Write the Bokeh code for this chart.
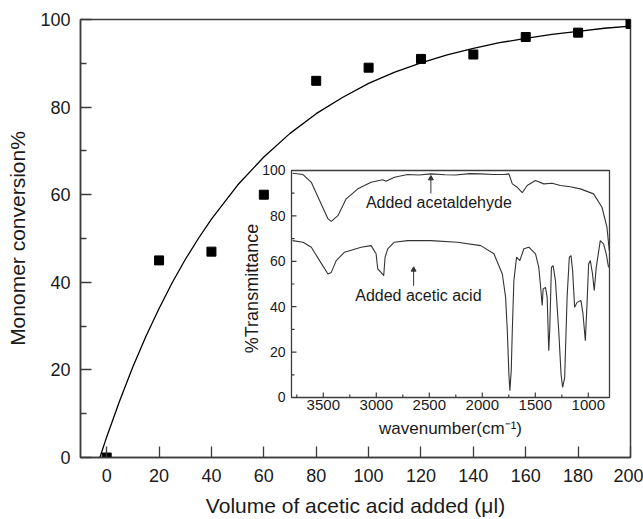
import math
from bokeh.plotting import figure
from bokeh.models import Range1d, FixedTicker
from bokeh.core.properties import value
from bokeh.embed import file_html
from bokeh.resources import INLINE

FONT = "Liberation Sans"

# ---- main chart data ----
volume = [0, 20, 40, 60, 80, 100, 120, 140, 160, 180, 200]
conversion = [0, 45, 47, 60, 86, 89, 91, 92, 96, 97, 99]

fit_volume = [-2.6, 0, 5, 10, 15, 20, 25, 30, 35, 40, 50, 60, 70, 80, 90, 100,
              110, 120, 130, 140, 150, 160, 170, 180, 190, 200]
fit_conversion = [0, 4.7, 13.0, 20.7, 27.7, 34.0, 39.9, 45.2, 50.0, 54.4, 62.2,
                  68.6, 74.0, 78.5, 82.2, 85.4, 88.0, 90.1, 91.9, 93.4, 94.7,
                  95.7, 96.6, 97.3, 98.0, 98.5]

x_ticks = [0, 20, 40, 60, 80, 100, 120, 140, 160, 180, 200]
y_ticks = [0, 20, 40, 60, 80, 100]
y_minor = [10, 30, 50, 70, 90]

# ---- inset IR spectra ----
wn_aldehyde = [3790, 3691, 3613, 3535, 3456, 3425, 3362, 3284, 3174, 3049, 2939,
               2908, 2829, 2704, 2600, 2485, 2350, 2250, 2120, 2015, 1900, 1780,
               1749, 1717, 1670, 1623, 1576, 1498, 1420, 1341, 1263, 1170, 1075,
               950, 871, 824, 802]
t_aldehyde = [98.8, 98.2, 94.8, 86.8, 78.7, 77.6, 80.1, 87.5, 91.9, 94.8, 95.9,
              95.3, 97.0, 98.2, 98.0, 98.5, 98.1, 98.0, 98.6, 98.5, 98.2, 98.3,
              98.5, 94.1, 92.6, 90.2, 93.4, 95.6, 94.1, 94.4, 93.4, 92.8, 91.9,
              89.7, 83.8, 75.0, 64.7]

wn_acid = [3790, 3691, 3613, 3535, 3456, 3425, 3378, 3300, 3143, 3049, 3002,
           2986, 2955, 2930, 2917, 2892, 2830, 2704, 2485, 2234, 2015, 1890,
           1811, 1780, 1764, 1749, 1740, 1727, 1717, 1702, 1677, 1646, 1608,
           1561, 1498, 1467, 1451, 1435, 1426, 1404, 1388, 1373, 1364, 1348,
           1332, 1310, 1279, 1257, 1242, 1223, 1200, 1179, 1163, 1148, 1129,
           1106, 1069, 1050, 1028, 1012, 997, 981, 960, 944, 925, 887, 856,
           831, 809]
t_acid = [69.1, 68.4, 66.2, 60.3, 54.4, 55.1, 60.3, 64.0, 66.2, 66.9, 63.3,
          56.6, 55.1, 53.7, 61.8, 65.5, 68.4, 69.1, 69.1, 68.4, 66.9, 63.3,
          54.4, 44.1, 29.4, 10.3, 3.0, 11.8, 29.4, 51.5, 61.8, 60.3, 65.5,
          66.2, 63.3, 57.3, 49.3, 40.5, 47.8, 48.5, 44.1, 20.6, 29.4, 57.3,
          58.1, 51.5, 29.4, 10.3, 4.4, 8.8, 44.1, 61.8, 62.5, 55.9, 39.7,
          41.9, 42.7, 36.8, 25.0, 41.2, 58.8, 60.3, 54.4, 47.1, 57.3, 69.1,
          67.7, 63.3, 57.3]

inset_x_ticks = [3500, 3000, 2500, 2000, 1500, 1000]
inset_x_labels = ["3500", "3000", "2500", "2000", "1500", "1000"]
inset_x_minor = [3750, 3250, 2750, 2250, 1750, 1250]
inset_y_ticks = [0, 20, 40, 60, 80, 100]
inset_y_labels = ["0", "20", "40", "60", "80", "100"]
inset_y_minor = [10, 30, 50, 70, 90]

notes = ["Added acetaldehyde", "Added acetic acid"]
note_x = [2410, 2603]
note_y = [86.0, 44.9]
arrow_x = [2485, 2648]
arrow_y0 = [89.9, 49.2]
arrow_y1 = [96.5, 56.3]

AX = "#3c3c3c"
TXT = "#1a1a1a"
SPEC = "#333333"

# ---------------- main figure ----------------
p = figure(width=643, height=519, x_range=Range1d(-10, 200), y_range=Range1d(0, 100),
           output_backend="svg", toolbar_location=None,
           min_border_left=80, min_border_right=13, min_border_top=19, min_border_bottom=62)
p.background_fill_color = "white"
p.border_fill_color = "white"
p.outline_line_color = AX
p.outline_line_width = 1.5
p.grid.visible = False

p.line(fit_volume, fit_conversion, line_color="black", line_width=1.3)
p.scatter(volume, conversion, marker="square", size=9, fill_color="black", line_color="black")

p.xaxis.ticker = FixedTicker(ticks=x_ticks)
p.yaxis.ticker = FixedTicker(ticks=y_ticks, minor_ticks=y_minor)
for ax in (p.xaxis[0], p.yaxis[0]):
    ax.axis_line_color = AX
    ax.axis_line_width = 1.5
    ax.major_tick_line_color = AX
    ax.major_tick_line_width = 1.3
    ax.minor_tick_line_color = AX
    ax.minor_tick_line_width = 1.3
    ax.major_tick_in = 11
    ax.major_tick_out = 0
    ax.minor_tick_in = 6
    ax.minor_tick_out = 0
    ax.major_label_text_font = FONT
    ax.major_label_text_font_size = "18px"
    ax.major_label_text_color = TXT
    ax.axis_label_text_font = FONT
    ax.axis_label_text_font_size = "21px"
    ax.axis_label_text_font_style = "normal"
    ax.axis_label_text_color = TXT
p.xaxis.minor_tick_line_color = None
p.xaxis.axis_label = "Volume of acetic acid added (\u03bcl)"
p.yaxis.axis_label = "Monomer conversion%"
p.xaxis.major_label_standoff = 11
p.xaxis.axis_label_standoff = 9
p.yaxis.major_label_standoff = 10
p.yaxis.axis_label_standoff = 8

# ---------------- inset (sub-coordinates inside the main frame) ----------------
inset_x = Range1d(3800, 800)
inset_y = Range1d(0, 100)
sub = p.subplot(x_source=inset_x, y_source=inset_y,
                x_target=Range1d(70.56, 191.98), y_target=Range1d(13.70, 65.53))

sub.quad(left=[inset_x.start], right=[inset_x.end], bottom=[inset_y.start], top=[inset_y.end],
         fill_color="white", line_color=AX, line_width=1.3)

sub.line(wn_aldehyde, t_aldehyde, line_color=SPEC, line_width=1.1)
sub.line(wn_acid, t_acid, line_color=SPEC, line_width=1.1)

# ticks (inside)
sub.ray(x=inset_x_ticks, y=[inset_y.start] * len(inset_x_ticks), length=5, length_units="screen",
        angle=math.pi / 2, line_color=AX, line_width=1.2)
sub.ray(x=inset_x_minor, y=[inset_y.start] * len(inset_x_minor), length=3, length_units="screen",
        angle=math.pi / 2, line_color=AX, line_width=1.2)
sub.ray(x=[inset_x.start] * len(inset_y_ticks), y=inset_y_ticks, length=5, length_units="screen",
        angle=0, line_color=AX, line_width=1.2)
sub.ray(x=[inset_x.start] * len(inset_y_minor), y=inset_y_minor, length=3, length_units="screen",
        angle=0, line_color=AX, line_width=1.2)

# tick labels
sub.text(x=inset_x_ticks, y=[inset_y.start] * len(inset_x_ticks), text=inset_x_labels,
         text_align="center", text_baseline="top", y_offset=3,
         text_font=value(FONT), text_font_size="15px", text_color=TXT)
sub.text(x=[inset_x.start] * len(inset_y_ticks), y=inset_y_ticks, text=inset_y_labels,
         text_align="right", text_baseline="middle", x_offset=-6,
         text_font=value(FONT), text_font_size="14px", text_color=TXT)

# axis titles
sub.text(x=[2300], y=[inset_y.start], text=["wavenumber(cm\u207b\u00b9)"],
         text_align="center", text_baseline="middle", y_offset=31,
         text_font=value(FONT), text_font_size="17px", text_color=TXT)
sub.text(x=[inset_x.start], y=[48], text=["%Transmittance"], angle=math.pi / 2,
         text_align="center", text_baseline="middle", x_offset=-39,
         text_font=value(FONT), text_font_size="18px", text_color=TXT)

# annotations
sub.text(x=note_x, y=note_y, text=notes, text_align="center", text_baseline="middle",
         text_font=value(FONT), text_font_size="16px", text_color=TXT)
sub.segment(x0=arrow_x, y0=arrow_y0, x1=arrow_x, y1=arrow_y1, line_color=SPEC, line_width=1)
sub.scatter(x=arrow_x, y=arrow_y1, marker="triangle", size=5, fill_color=SPEC, line_color=SPEC)

open("out.html", "w").write(file_html(p, INLINE))
